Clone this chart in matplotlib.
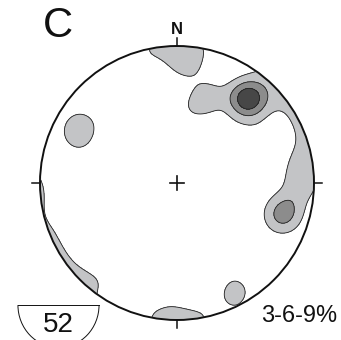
import numpy as np
import matplotlib
matplotlib.use("Agg")
import matplotlib.pyplot as plt
from matplotlib.patches import Circle, Arc

plt.rcParams['font.family'] = ['Liberation Sans', 'DejaVu Sans']

# poles, equal-area net coordinates (unit circle), lower hemisphere
pole_x = [0.511, 0.511, 0.511, 0.526, 0.526, 0.518,  # NE maximum
          0.226, 0.226,                           # NE tail
          0.759, 0.759, 0.788, 0.788,             # E maximum
          0.905, 0.920, 0.920, 0.891,             # E rim
          0.070, -0.070, -0.208,                  # N rim
          0.066, 0.066,                           # N lobe
          -0.708, -0.708, -0.737,                 # W
          0.395, 0.455,                           # SE
          -0.946, -0.887, -0.809, -0.713,         # SW rim
          -0.562,                                 # SW lobe
          -0.343, 0.350, -0.270, 0.095, -0.562, -0.197, 0.168, 0.496,
          -0.343, 0.022, 0.387, -0.051, -0.635, 0.606, -0.270, -0.416,
          0.387, -0.051, 0.241, -0.270, -0.450]
pole_y = [0.628, 0.628, 0.628, 0.591, 0.591, 0.610,
          0.628, 0.628,
          -0.255, -0.255, -0.197, -0.197,
          0.182, 0.051, 0.051, -0.066,
          0.998, 0.998, 0.978,
          0.883, 0.883,
          0.416, 0.416, 0.314,
          -0.805, -0.785,
          -0.326, -0.462, -0.588, -0.701,
          -0.730,
          0.788, 0.314, 0.314, 0.533, -0.197, -0.051, 0.022, 0.095,
          -0.489, -0.380, -0.526, -0.745, 0.058, 0.314, -0.891, 0.533,
          -0.124, 0.241, -0.234, -0.270, 0.150]
levels = [3, 6, 9]
fills = ['#c3c4c6', '#8c8c8c', '#474747']
n_label = '52'
level_label = '3-6-9%'
panel = 'C'

px = np.array(pole_x)
py = np.array(pole_y)
n = len(px)
r = np.hypot(px, py)
# points near the primitive also count on the opposite side
gx = -px / r * (2 - r)
gy = -py / r * (2 - r)
allx = np.concatenate([px, gx])
ally = np.concatenate([py, gy])

s = 0.1
g = np.linspace(-1.02, 1.02, 320)
X, Y = np.meshgrid(g, g)
D = np.zeros_like(X)
for a, b in zip(allx, ally):
    D += np.exp(-((X - a) ** 2 + (Y - b) ** 2) / (2 * s * s))
D = D * 100.0 / n

fig = plt.figure(figsize=(3.41, 3.40), dpi=100)
ax = fig.add_axes([0, 0, 1, 1])
ax.set_xlim(-177 / 137, (341 - 177) / 137)
ax.set_ylim((183 - 340) / 137, 183 / 137)
ax.set_aspect('equal')
ax.axis('off')

clip = Circle((0, 0), 1, transform=ax.transData)
cf = ax.contourf(X, Y, D, levels=levels + [1000], colors=fills)
cf.set_clip_path(clip)
cl = ax.contour(X, Y, D, levels=levels, colors='#222222', linewidths=0.6)
cl.set_clip_path(clip)

ax.add_patch(Circle((0, 0), 1, fill=False, ec='#111111', lw=1.4))
t = 0.055
ax.plot([0, 0], [1, 1 + t], color='#111111', lw=1.1)
ax.plot([0, 0], [-1, -1 - t], color='#111111', lw=1.1)
ax.plot([1, 1 + t], [0, 0], color='#111111', lw=1.1)
ax.plot([-1, -1 - t], [0, 0], color='#111111', lw=1.1)
c = 0.05
ax.plot([-c, c], [0, 0], color='#111111', lw=1.2)
ax.plot([0, 0], [-c, c], color='#111111', lw=1.2)

ax.text(-0.004, 1.124, 'N', ha='center', va='center', fontsize=12, fontweight='bold', color='#111111')
ax.text(-0.872, 1.146, panel, ha='center', va='center', fontsize=30, color='#111111')
ax.text(0.615, -1.015, level_label, ha='left', va='baseline', fontsize=17, color='#111111')

ax.plot([-1.161, -0.569], [-0.891, -0.891], color='#111111', lw=0.7)
ax.add_patch(Arc((-0.865, -0.891), 0.592, 0.62, theta1=180, theta2=360, color='#111111', lw=0.7))
ax.text(-0.869, -1.090, n_label, ha='center', va='baseline', fontsize=20, color='#111111')

fig.savefig('out.png', dpi=100)
